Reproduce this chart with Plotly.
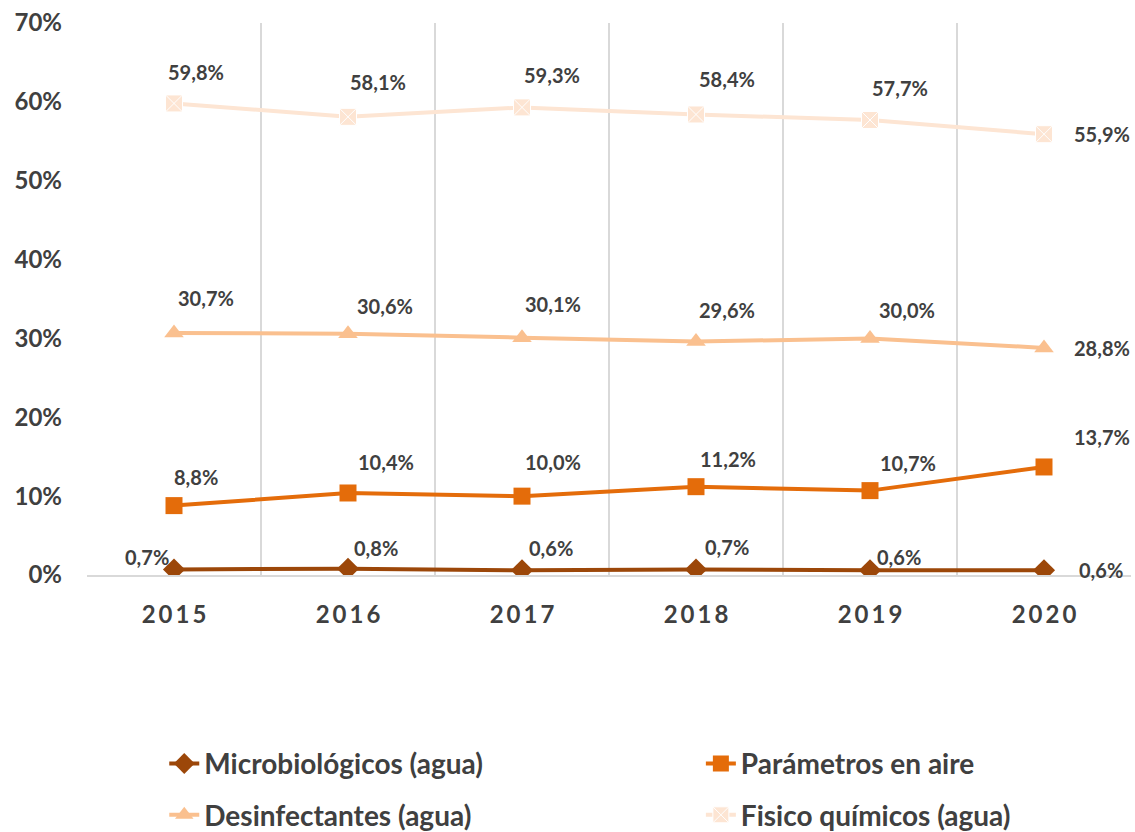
import plotly.graph_objects as go

# Data
years = ["2015", "2016", "2017", "2018", "2019", "2020"]
microbiologicos = [0.7, 0.8, 0.6, 0.7, 0.6, 0.6]
parametros_aire = [8.8, 10.4, 10.0, 11.2, 10.7, 13.7]
desinfectantes = [30.7, 30.6, 30.1, 29.6, 30.0, 28.8]
fisico_quimicos = [59.8, 58.1, 59.3, 58.4, 57.7, 55.9]
y_ticks = [0, 10, 20, 30, 40, 50, 60, 70]

TEXT = "#404040"
FONT = "Lato"

# name, values, colour, symbol, legend id, legend position, label offsets (px)
series = [
    ("Microbiológicos (agua)", microbiologicos, "#9C4709", "diamond", "legend", (0.074, -0.342),
     [(-27, 12), (28, 21), (29, 22), (31, 22), (29, 13), (57, 0)]),
    ("Parámetros en aire", parametros_aire, "#E46C0A", "square", "legend2", (0.588, -0.342),
     [(22, 29), (38, 31), (31, 34), (32, 28), (38, 28), (58, 30)]),
    ("Desinfectantes (agua)", desinfectantes, "#FAC08F", "triangle-up", "legend3", (0.074, -0.435),
     [(32, 35), (37, 28), (31, 34), (31, 32), (37, 28), (58, 0)]),
    ("Fisico químicos (agua)", fisico_quimicos, "#FDE5D3", "square-x", "legend4", (0.588, -0.435),
     [(22, 31), (30, 35), (30, 32), (31, 35), (30, 32), (58, 0)]),
]

fig = go.Figure()
annotations = []
legends = {}
for name, vals, color, symbol, leg, (lx, ly), offs in series:
    yv = [v / 100 for v in vals]
    fig.add_trace(go.Scatter(
        x=years, y=yv, name=name, mode="lines+markers",
        line=dict(color=color, width=4),
        marker=dict(symbol=symbol, size=17, color=color,
                    line=dict(color="white" if symbol == "square-x" else color,
                              width=1 if symbol == "square-x" else 0)),
        legend=leg,
    ))
    legends[leg] = dict(x=lx, y=ly, xanchor="left", yanchor="middle",
                        orientation="h", bgcolor="rgba(0,0,0,0)",
                        font=dict(family=FONT, size=28, color=TEXT, weight="bold"))
    for i, v in enumerate(vals):
        dx, dy = offs[i]
        annotations.append(dict(
            x=i, y=v / 100, xref="x", yref="y",
            text=f"{v:.1f}".replace(".", ",") + "%",
            showarrow=False, xshift=dx, yshift=dy,
            font=dict(family=FONT, size=20, color=TEXT, weight="bold"),
        ))

fig.update_layout(
    width=1135, height=832,
    margin=dict(l=87, r=4, t=23, b=257, autoexpand=False),
    paper_bgcolor="white", plot_bgcolor="white",
    annotations=annotations,
    showlegend=True,
    **legends,
)

fig.update_xaxes(
    type="category", tickson="boundaries", range=[-0.5, 5.5], automargin=False,
    showgrid=True, gridcolor="#D9D9D9", gridwidth=2,
    showline=True, linecolor="#D9D9D9", linewidth=2,
    ticks="", ticklabelstandoff=17,
    tickvals=years, ticktext=["\u2009".join(y) for y in years],
    tickfont=dict(family=FONT, size=24, color=TEXT, weight="bold"),
)
fig.update_yaxes(
    range=[0, 0.70], showgrid=False, zeroline=False, showline=False, automargin=False,
    tickvals=[t / 100 for t in y_ticks], ticktext=[f"{t}%" for t in y_ticks],
    ticklabelstandoff=24,
    tickfont=dict(family=FONT, size=24, color=TEXT, weight="bold"),
)

fig.write_html("out.html")
